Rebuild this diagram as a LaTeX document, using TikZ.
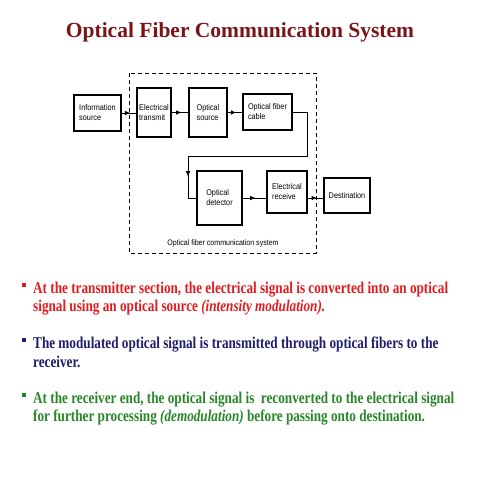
\documentclass[tikz,border=0pt]{standalone}
\usepackage{fontspec}
\setmainfont{Liberation Serif}
\newfontfamily\boxfont[FakeStretch=0.88]{Liberation Sans}
\newfontfamily\slidefont[FakeStretch=0.8]{Liberation Serif}
\usetikzlibrary{arrows,arrows.meta,calc,decorations.markings,positioning}
\definecolor{titlered}{RGB}{122,20,24}
\definecolor{ptred}{RGB}{226,28,30}
\definecolor{ptblue}{RGB}{30,30,110}
\definecolor{ptgreen}{RGB}{40,135,40}
\tikzset{
  blk/.style={draw,line width=1.4pt,inner sep=1pt,align=left,
    font=\boxfont\fontsize{8.3}{10}\selectfont},
  wire/.style={line width=0.9pt},
  midarr/.style={postaction={decorate},decoration={markings,
    mark=at position #1 with {\arrow{Latex[length=5.5pt,width=4.5pt]}}}},
  pt/.style={anchor=base west,inner sep=0pt,
    font=\slidefont\bfseries\fontsize{16.5}{18}\selectfont}
}
\begin{document}
\begin{tikzpicture}[x=1pt,y=1pt]
\useasboundingbox (0,0) rectangle (480,-480);
\fill[white] (0,0) rectangle (480,-480);
% title
\node[anchor=base,inner sep=0pt,text=titlered,
  font=\bfseries\fontsize{21.5}{24}\selectfont] (title) at (240,-37) {Optical Fiber Communication System};
% the system
\draw[line width=0.9pt,dash pattern=on 4pt off 3pt] (129,-73) rectangle (316,-253);
\node[blk,minimum width=47,minimum height=36] (info) at (97.5,-113) {Information\\source};
\node[blk,minimum width=34,minimum height=49] (etx) at (154,-112.5) {Electrical\\transmit};
\node[blk,minimum width=38,minimum height=49] (osrc) at (208,-112.5) {Optical\\source};
\node[blk,minimum width=49,minimum height=36] (cable) at (267.5,-112) {Optical fiber\\cable};
\node[blk,minimum width=45,minimum height=54] (det) at (219.5,-198) {Optical\\detector};
\node[blk,minimum width=40,minimum height=42] (erx) at (287,-192) {Electrical\\receive};
\node[blk,minimum width=46,minimum height=35] (dest) at (347,-195.5) {Destination};
\node[font=\boxfont\fontsize{8}{9}\selectfont] (sys) at (223,-243) {Optical fiber communication system};
\coordinate (bend) at (307,-156);
\coordinate (drop) at (188,-156);
\draw[wire,midarr=0.6] (info.east) -- (info.east -| etx.west);
\draw[wire,midarr=0.6] (etx.east) -- (etx.east -| osrc.west);
\draw[wire,midarr=0.6] (osrc.east) -- (osrc.east -| cable.west);
\draw[wire,midarr=198pt] (cable.east) -| (bend) -- (drop) |- (det.west);
\draw[wire,midarr=0.55] (det.east) -- (det.east -| erx.west);
\draw[wire,midarr=0.6] (det.east -| erx.east) -- (det.east -| dest.west);
% the points
\fill[ptred] (22,-283) rectangle (26,-287);
\node[pt,text=ptred] (p1a) at (33,-293) {At the transmitter section, the electrical signal is converted into an optical};
\node[pt,text=ptred] (p1b) at (33,-311) {signal using an optical source \textit{(intensity modulation).}};
\fill[ptblue] (22,-338) rectangle (26,-342);
\node[pt,text=ptblue] (p2a) at (33,-348) {The modulated optical signal is transmitted through optical fibers to the};
\node[pt,text=ptblue] (p2b) at (33,-367) {receiver.};
\fill[ptgreen] (22,-393) rectangle (26,-397);
\node[pt,text=ptgreen] (p3a) at (33,-403) {At the receiver end, the optical signal is \ reconverted to the electrical signal};
\node[pt,text=ptgreen] (p3b) at (33,-421) {for further processing \textit{(demodulation)} before passing onto destination.};
\end{tikzpicture}
\end{document}
